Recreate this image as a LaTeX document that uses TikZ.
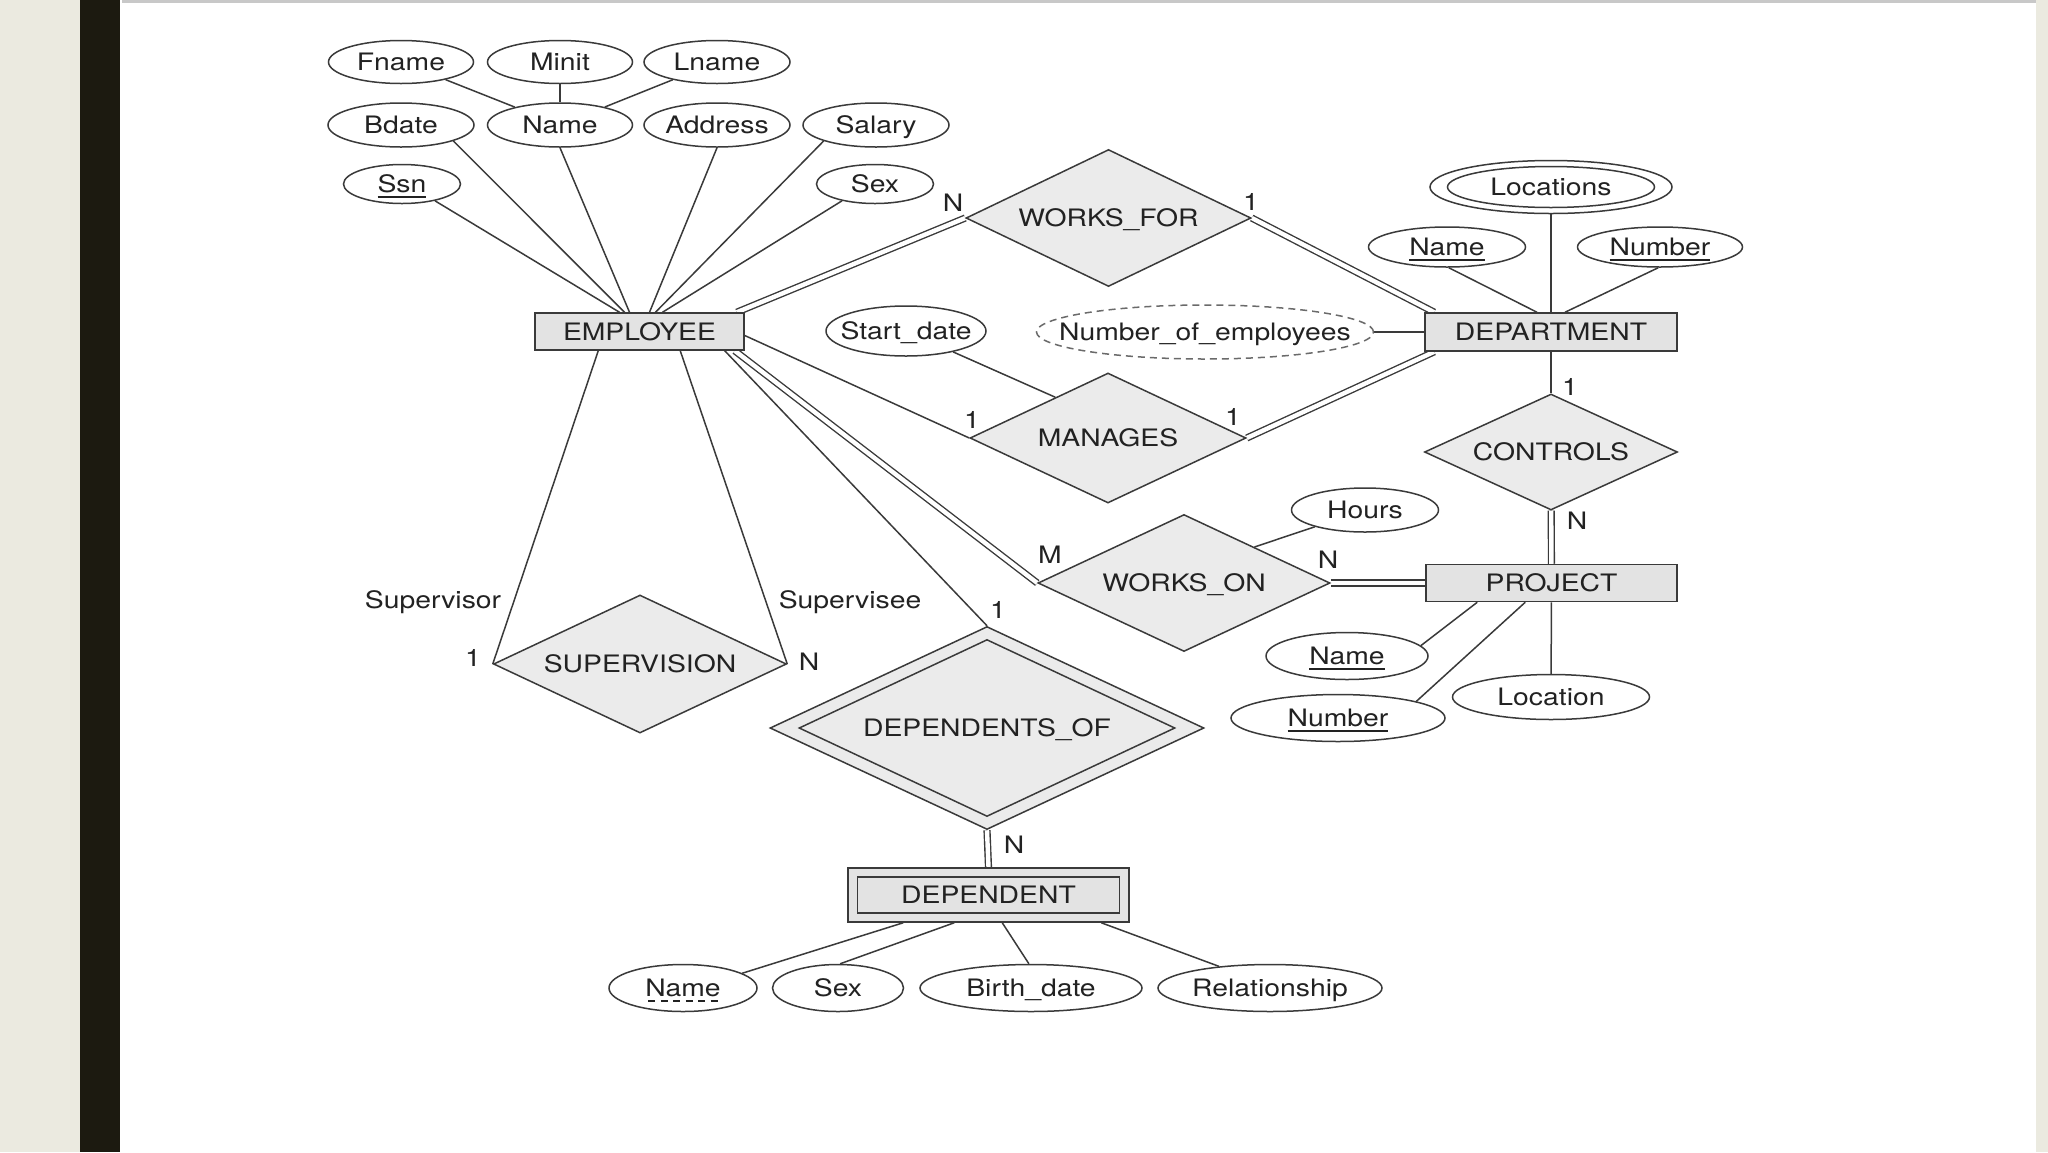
\documentclass[tikz,border=0pt]{standalone}
\usepackage{fontspec}
\setmainfont{TeX Gyre Heros}[FakeStretch=1.18]
\usetikzlibrary{shapes.geometric,calc}
\definecolor{ln}{HTML}{3A3A3A}
\definecolor{txt}{HTML}{222222}
\definecolor{entfill}{HTML}{E3E3E3}
\definecolor{relfill}{HTML}{EBEBEB}
\definecolor{sidegrey}{HTML}{EBEAE0}
\definecolor{barblack}{HTML}{1C1A10}
\definecolor{topline}{HTML}{C8C8C8}
\definecolor{dashgrey}{HTML}{6A6A6A}
\pgfdeclarelayer{back}
\pgfdeclarelayer{bg}
\pgfsetlayers{back,bg,main}
\newcommand\zb[1]{\makebox[0pt]{#1}}
\newcommand\ulx[1]{\setbox0\hbox{#1}\rlap{\rule[-5pt]{\wd0}{1.4pt}}\box0}
\newcommand\dulx[1]{\setbox0\hbox{#1}\rlap{\hbox to\wd0{\xleaders\hbox{\hskip2.5pt\rule[-5pt]{7pt}{1.4pt}\hskip2.5pt}\hfill}}\box0}
\begin{document}
\begin{tikzpicture}[x=1pt,y=-1pt,
  every node/.style={font=\fontsize{24}{28}\selectfont, text=txt},
  attr/.style 2 args={ellipse, draw=ln, line width=1.5pt, fill=white, inner sep=0pt,
    minimum width=#1, minimum height=#2, text height=17pt, text depth=0pt},
  ent/.style 2 args={rectangle, draw=ln, line width=1.5pt, fill=entfill, inner sep=0pt,
    minimum width=#1, minimum height=#2, text height=17pt, text depth=0pt},
  rel/.style 2 args={diamond, aspect=2, draw=ln, line width=1.5pt, fill=relfill, inner sep=0pt,
    minimum width=#1, minimum height=#2, text height=17pt, text depth=0pt},
  conn/.style={draw=ln, line width=1.5pt},
  dbl/.style={draw=ln, line width=1.4pt, double=white, double distance=4.4pt},
  card/.style={inner sep=0pt, text height=17pt, text depth=0pt}
]
\begin{pgfonlayer}{back}
\fill[sidegrey] (0,0) rectangle (80,1152);
\fill[barblack] (80,0) rectangle (120,1152);
\fill[white] (120,0) rectangle (2036,1152);
\fill[sidegrey] (2036,0) rectangle (2048,1152);
\fill[topline] (122,0) rectangle (2036,3);
\end{pgfonlayer}
\useasboundingbox (0,0) rectangle (2048,1152);

% EMPLOYEE and attributes
\node[attr={145}{43}] (fname) at (401,62) {\zb{Fname}};
\node[attr={145}{43}] (minit) at (560,62) {\zb{Minit}};
\node[attr={146}{43}] (lname) at (717,62) {\zb{Lname}};
\node[attr={146}{44}] (bdate) at (401,125) {\zb{Bdate}};
\node[attr={145}{44}] (ename) at (560,125) {\zb{Name}};
\node[attr={146}{44}] (addr) at (717,125) {\zb{Address}};
\node[attr={146}{44}] (sal) at (876,125) {\zb{Salary}};
\node[attr={117}{39}] (ssn) at (402,184) {\zb{\ulx{Ssn}}};
\node[attr={117}{39}] (esex) at (875,184) {\zb{Sex}};
\node[ent={209}{37}] (emp) at (639.5,331.5) {EMPLOYEE};

% WORKS_FOR, DEPARTMENT
\node[rel={285}{137}] (wf) at (1108.5,218) {WORKS\_FOR};
\node[attr={242}{53}] (loc) at (1551,187) {};
\node[attr={207}{41}] (loci) at (1551,187) {\zb{Locations}};
\node[attr={157}{40}] (dname) at (1447,247) {\zb{\ulx{Name}}};
\node[attr={165}{40}] (dnum) at (1660,247) {\zb{\ulx{Number}}};
\node[ent={252}{38}] (dept) at (1551,332) {DEPARTMENT};
\node[attr={160}{50}] (sd) at (906,331) {\zb{Start\_date}};
\node[attr={337}{54}, draw=dashgrey, dash pattern=on 7pt off 5pt] (noe) at (1205,332) {\zb{Number\_of\_employees}};
\node[rel={276}{130}] (man) at (1108,438) {MANAGES};
\node[rel={253}{116}] (ctrl) at (1551,452) {CONTROLS};

% WORKS_ON, PROJECT
\node[attr={147}{44}] (hours) at (1365,510) {\zb{Hours}};
\node[rel={292}{137}] (won) at (1184,583) {WORKS\_ON};
\node[ent={251}{37}] (proj) at (1551.5,583) {PROJECT};
\node[attr={162}{47}] (pname) at (1347,656) {\zb{\ulx{Name}}};
\node[attr={214}{47}] (pnum) at (1338,718) {\zb{\ulx{Number}}};
\node[attr={197}{45}] (ploc) at (1551,697) {\zb{Location}};

% SUPERVISION
\node[rel={293}{138}] (sup) at (640,664) {SUPERVISION};

% DEPENDENTS_OF, DEPENDENT
\node[rel={434}{203}] (depof) at (987,728) {};
\node[rel={376}{177}] (depofi) at (987,728) {DEPENDENTS\_OF};
\node[ent={281}{54}] (dep) at (988.5,895) {};
\node[ent={262}{36}] (depi) at (988.5,895) {DEPENDENT};
\node[attr={148}{47}] (dn) at (683,988) {\zb{\dulx{Name}}};
\node[attr={131}{47}] (dsx) at (838,988) {\zb{Sex}};
\node[attr={222}{47}] (dbd) at (1031,988) {\zb{Birth\_date}};
\node[attr={224}{47}] (drel) at (1270,988) {\zb{Relationship}};

% cardinality and role labels
\node[card] (lwfn) at (953,203) {N};
\node[card] (lwf1) at (1251,202) {1};
\node[card] (lman1) at (972,420) {1};
\node[card] (lman2) at (1233,417) {1};
\node[card] (lc1) at (1570,387) {1};
\node[card] (lcn) at (1577,521) {N};
\node[card] (lwm) at (1050,555) {M};
\node[card] (lwn) at (1328,560) {N};
\node[card] (ls1) at (473,658) {1};
\node[card] (lsn) at (809,662) {N};
\node[card] (lsvr) at (433,600) {Supervisor};
\node[card] (lsve) at (850,600) {Supervisee};
\node[card] (ld1) at (998,610) {1};
\node[card] (ldn) at (1014,845) {N};

\begin{pgfonlayer}{bg}
% composite name
\draw[conn] (fname) -- (ename);
\draw[conn] (minit) -- (ename);
\draw[conn] (lname) -- (ename);
% employee attributes
\draw[conn] (ssn.-27) -- ($(emp.north)+(-20,0)$);
\draw[conn] (bdate.-17) -- ($(emp.north)+(-15,0)$);
\draw[conn] (ename.south) -- ($(emp.north)+(-10,0)$);
\draw[conn] (addr.south) -- ($(emp.north)+(10,0)$);
\draw[conn] (sal.-163) -- ($(emp.north)+(16,0)$);
\draw[conn] (esex.-153) -- ($(emp.north)+(23,0)$);
% works_for
\draw[dbl] ($(emp.north east)+(-8,0)$) -- (wf.west);
\draw[dbl] (wf.east) -- ($(dept.north west)+(10,0)$);
% department attributes
\draw[conn] (loc) -- (dept);
\draw[conn] (dname.-85) -- ($(dept.north)+(-14,0)$);
\draw[conn] (dnum.-95) -- ($(dept.north)+(14,0)$);
\draw[conn] (noe) -- (dept);
% manages
\draw[conn] ($(emp.east)+(0,4)$) -- (man.west);
\draw[dbl] (man.east) -- ($(dept.south west)+(10,0)$);
\draw[conn] (sd) -- ($(man.west)!0.62!(man.north)$);
% controls
\draw[conn] (dept) -- (ctrl);
\draw[dbl] (ctrl) -- (proj);
% works_on
\draw[dbl] ($(emp.south east)+(-10,0)$) -- (won.west);
\draw[dbl] (won) -- (proj);
\draw[conn] (hours) -- ($(won.north)!0.48!(won.east)$);
% project attributes
\draw[conn] (pname.8) -- ($(proj.south west)+(52,0)$);
\draw[conn] (pnum.12) -- ($(proj.south west)+(100,0)$);
\draw[conn] (ploc) -- (proj);
% supervision
\draw[conn] ($(emp.south west)+(64,0)$) -- (sup.west);
\draw[conn] ($(emp.south west)+(146,0)$) -- (sup.east);
% dependents_of
\draw[conn] ($(emp.south east)+(-20,0)$) -- (depof.north);
\draw[dbl] (depof.south) -- (dep.north);
% dependent attributes
\draw[conn] (dn.14) -- ($(dep.south west)+(56,0)$);
\draw[conn] (dsx.85) -- ($(dep.south west)+(107,0)$);
\draw[conn] (dbd.95) -- ($(dep.south west)+(155,0)$);
\draw[conn] (drel.157) -- ($(dep.south west)+(254,0)$);
\end{pgfonlayer}
\end{tikzpicture}
\end{document}
